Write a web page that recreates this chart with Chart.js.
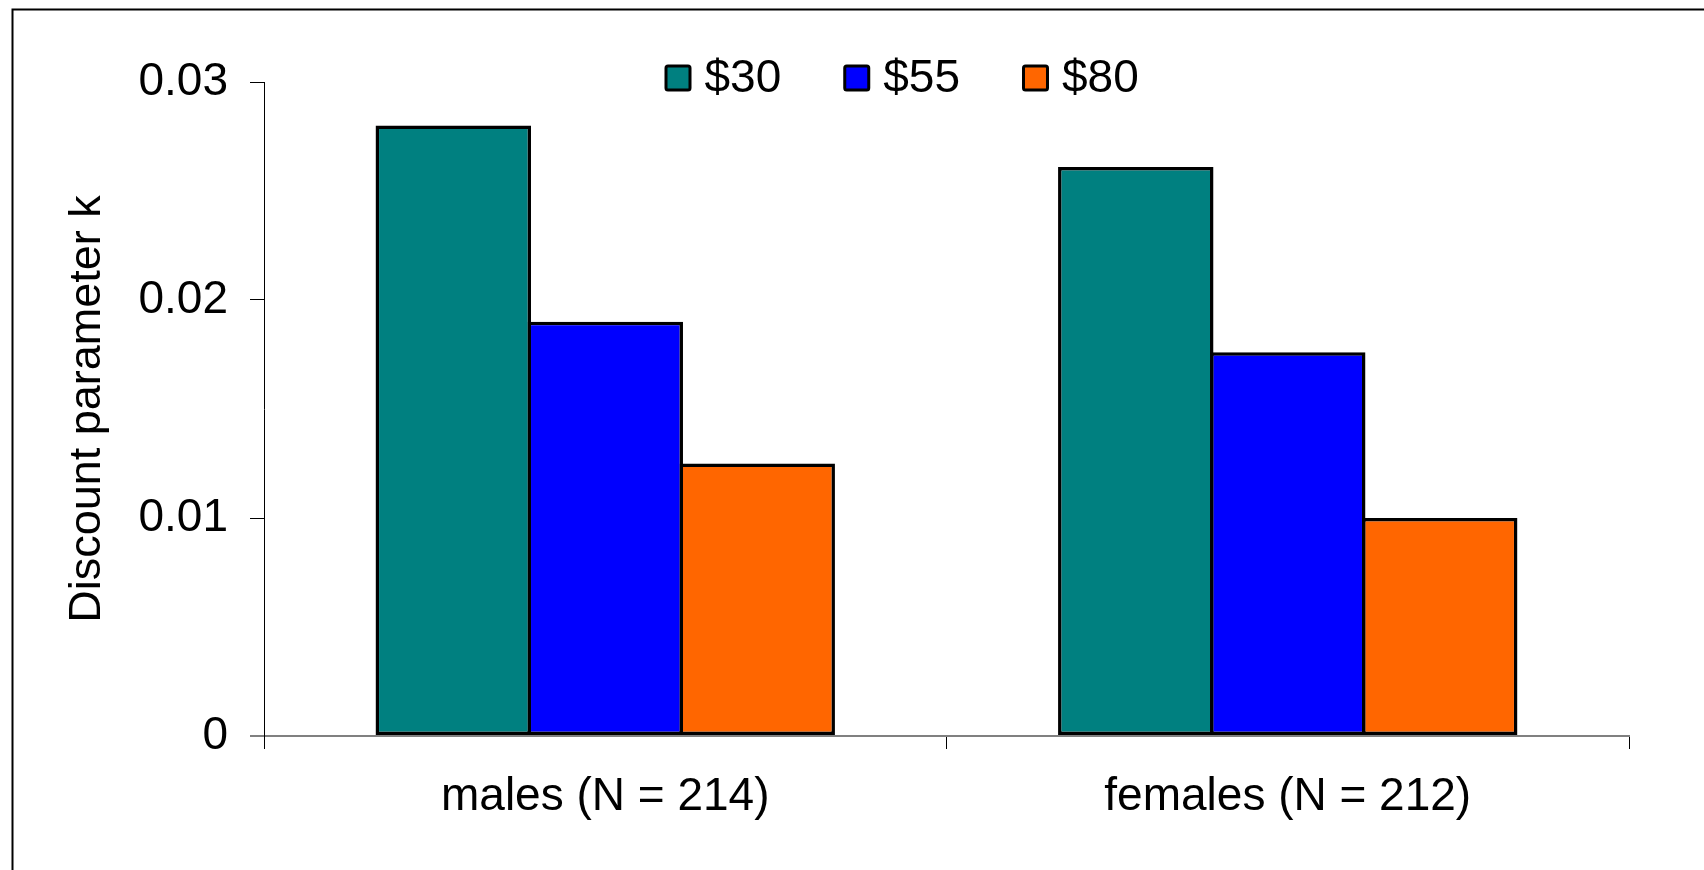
<!DOCTYPE html>
<html>
<head>
<meta charset="utf-8">
<script src="https://cdn.jsdelivr.net/npm/chart.js@4.4.1/dist/chart.umd.min.js"></script>
<style>
  html, body { margin: 0; padding: 0; background: #fff; }
  #wrap { width: 1704px; height: 870px; }
</style>
</head>
<body>
<div id="wrap"><canvas id="discountChart" width="1704" height="870"></canvas></div>
<script>
const groups = ['males (N = 214)', 'females (N = 212)'];
const amounts = ['$30', '$55', '$80'];
const k30 = [0.028, 0.0261];
const k55 = [0.019, 0.0176];
const k80 = [0.0125, 0.01];
const yTicks = [0, 0.01, 0.02, 0.03];
const barColors = ['#008080', '#0000ff', '#ff6600'];

const FONT = '"Liberation Sans", Arial, sans-serif';

// legend drawn inside the plot, level with the top tick
const topLegend = {
  id: 'topLegend',
  afterDraw(chart) {
    const { ctx, chartArea } = chart;
    const box = 27;
    const y = chartArea.top - 4;
    ctx.save();
    ctx.font = `46px ${FONT}`;
    ctx.textBaseline = 'middle';
    let x = (chartArea.left + chartArea.right) / 2 - 282;
    chart.data.datasets.forEach((ds) => {
      ctx.fillStyle = ds.backgroundColor;
      ctx.strokeStyle = '#000';
      ctx.lineWidth = 3;
      ctx.beginPath();
      ctx.roundRect(x + 1.5, y - box / 2 + 1.5, box - 3, box - 3, 2);
      ctx.fill();
      ctx.stroke();
      ctx.fillStyle = '#000';
      ctx.fillText(ds.label, x + box + 13, y + 1);
      x += box + 13 + ctx.measureText(ds.label).width + 62;
    });
    ctx.restore();
  },
};

// thin frame along the top and left edges
const frame = {
  id: 'frame',
  beforeDraw(chart) {
    const { ctx, width, height } = chart;
    ctx.save();
    ctx.strokeStyle = '#000';
    ctx.lineWidth = 2;
    ctx.beginPath();
    ctx.moveTo(12.5, height);
    ctx.lineTo(12.5, 9.5);
    ctx.lineTo(width, 9.5);
    ctx.stroke();
    ctx.restore();
  },
};

const series = [k30, k55, k80];

new Chart(document.getElementById('discountChart'), {
  type: 'bar',
  data: {
    labels: groups,
    datasets: amounts.map((label, i) => ({
      label: label,
      data: series[i],
      backgroundColor: barColors[i],
      borderColor: '#000',
      borderWidth: 3.5,
      borderSkipped: false,
      categoryPercentage: 0.668,
      barPercentage: 1.023,
    })),
  },
  options: {
    responsive: false,
    animation: false,
    layout: { padding: { top: 82, right: 75, bottom: 0, left: 0 } },
    plugins: {
      legend: { display: false },
      tooltip: { enabled: false },
    },
    scales: {
      x: {
        afterFit: (scale) => { scale.height = 134; },
        grid: {
          offset: true,
          drawOnChartArea: false,
          tickLength: 13,
          color: '#000',
          lineWidth: 1,
        },
        border: { color: '#808080', width: 2 },
        ticks: {
          padding: 21,
          color: '#000',
          font: { family: FONT, size: 46 },
        },
      },
      y: {
        min: 0,
        max: 0.03,
        afterFit: (scale) => { scale.width = 264; },
        afterBuildTicks: (scale) => {
          scale.ticks = yTicks.map((v) => ({ value: v }));
        },
        grid: {
          drawOnChartArea: false,
          tickLength: 14,
          color: (c) => (c.tick && c.tick.value === 0 ? '#808080' : '#000'),
          lineWidth: (c) => (c.tick && c.tick.value === 0 ? 2 : 1),
        },
        border: { color: '#000', width: 1 },
        ticks: {
          padding: 22,
          color: '#000',
          font: { family: FONT, size: 46 },
          callback: (v) => String(+v.toFixed(2)),
        },
        title: {
          display: true,
          text: 'Discount parameter k',
          color: '#000',
          font: { family: FONT, size: 45 },
          padding: { top: 61, bottom: 0 },
        },
      },
    },
  },
  plugins: [frame, topLegend],
});
</script>
</body>
</html>
